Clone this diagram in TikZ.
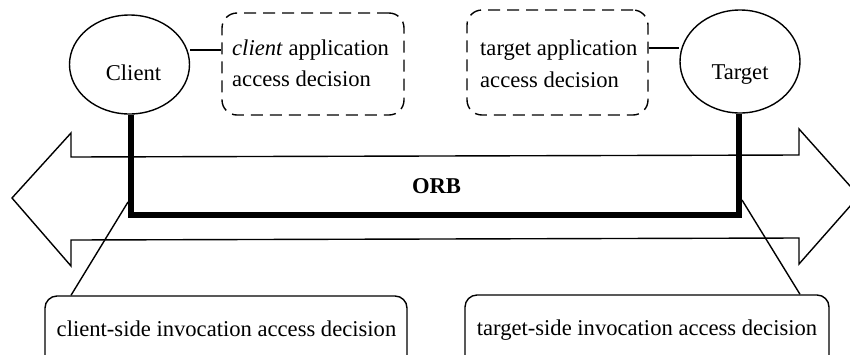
\documentclass[tikz,border=0pt]{standalone}
\usepackage{fontspec}
\setmainfont{Liberation Serif}
\usetikzlibrary{shapes.geometric}
\begin{document}
\begin{tikzpicture}[x=1pt,y=-1pt,
  thin line/.style={line width=1.4pt},
  dbox/.style={draw,thin line,rounded corners=15pt,dash pattern=on 12pt off 7pt,inner sep=0pt},
  sbox/.style={draw,thin line,rounded corners=12pt,inner sep=0pt},
  txt/.style={font=\fontsize{22.6}{26}\selectfont,inner sep=0pt},
  lead/.style={thin line}]
\useasboundingbox (0,0) rectangle (850,354);
\begin{scope}
\clip (0,0) rectangle (850,354);
% ORB double arrow
\draw[thin line,line join=miter] (12,198) -- (71,133) -- (71,157) -- (799,155) -- (799,129)
  -- (859,196) -- (799,264) -- (799,238) -- (71,240) -- (71,266) -- cycle;
% boxes
\node[dbox,minimum width=182pt,minimum height=102pt] (capp) at (313,64) {};
\node[dbox,minimum width=181pt,minimum height=105pt] (tapp) at (557.5,62.5) {};
\node[sbox,minimum width=362pt,minimum height=80pt] (cinv) at (226,336) {};
\node[sbox,minimum width=364pt,minimum height=80pt] (tinv) at (647,335) {};
\end{scope}
% ellipses
\node[draw,thin line,ellipse,minimum width=120pt,minimum height=99pt] (client) at (129.5,64.5) {};
\node[draw,thin line,ellipse,minimum width=120pt,minimum height=103pt] (target) at (740,61.5) {};
\node[txt,anchor=base] (clientlbl) at (133.5,80) {Client};
\node[txt,anchor=base] (targetlbl) at (740,79) {Target};
% app box texts
\node[txt,anchor=base west] (ct1) at (232,55) {\textit{client} application};
\node[txt,anchor=base west] (ct2) at (232,86) {access decision};
\node[txt,anchor=base west] (tt1) at (480,55) {target application};
\node[txt,anchor=base west] (tt2) at (480,87) {access decision};
% invocation texts
\node[txt,anchor=base] (cit) at (226.5,336) {client-side invocation access decision};
\node[txt,anchor=base] (tit) at (647,335) {target-side invocation access decision};
% ORB label
\node[txt,font=\fontsize{22.6}{26}\selectfont\bfseries,anchor=base] (orb) at (436.5,193) {ORB};
% connectors to app boxes
\draw[lead] (client.east |- 0,50) -- (capp.west |- 0,50);
\draw[lead] (tapp.east |- 0,48) -- (target.west |- 0,48);
% thick ORB line
\coordinate (cc) at (131,215);
\coordinate (tc) at (739,215);
\draw[line width=5.5pt,line join=miter] (client.south -| cc) -- (cc) -- (tc) -- (target.south -| tc);
% leaders
\coordinate (cl) at (128,202);
\coordinate (tl) at (742,200);
\draw[lead] (cl) -- (cinv.north west -| 71,0);
\draw[lead] (tl) -- (tinv.north west -| 800,0);
\end{tikzpicture}
\end{document}
